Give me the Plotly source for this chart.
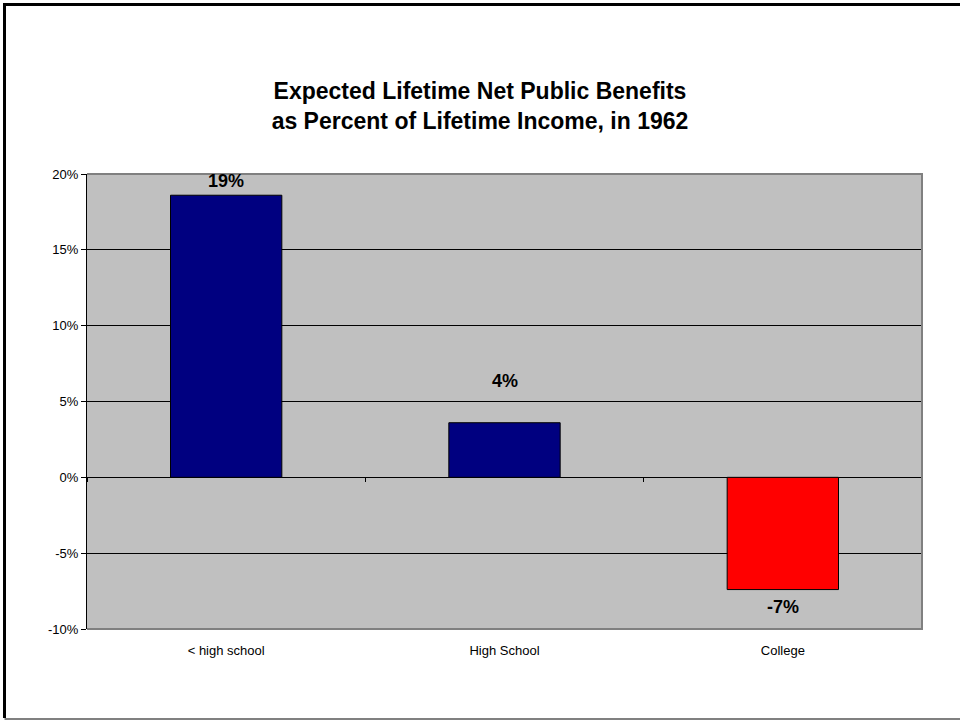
import plotly.graph_objects as go

# Data
categories = ["< high school", "High School", "College"]
net_benefit_share = [0.186, 0.036, -0.074]
bar_colors = ["#000080", "#000080", "#FF0000"]
label_shift_px = [14, 42, -17]

y_range = [-0.10, 0.20]
y_tick_vals = [-0.10, -0.05, 0.0, 0.05, 0.10, 0.15, 0.20]
y_tick_text = [f"{round(v * 100)}%" for v in y_tick_vals]

W, H = 960, 721
M_L, M_R, M_T, M_B = 87, 38, 174, 92
FONT = "Liberation Sans, Arial, sans-serif"

fig = go.Figure()
fig.add_trace(go.Bar(
    x=categories,
    y=net_benefit_share,
    marker=dict(color=bar_colors, line=dict(color="black", width=1)),
    width=0.4,
    hoverinfo="skip",
))

# Value labels above / below the bars
for cat, val, shift in zip(categories, net_benefit_share, label_shift_px):
    fig.add_annotation(
        x=cat, y=val, xref="x", yref="y",
        text=f"<b>{round(val * 100):.0f}%</b>",
        showarrow=False, yshift=shift,
        font=dict(family=FONT, size=18, color="black"),
        xanchor="center", yanchor="middle",
    )

zero_pos = (0 - y_range[0]) / (y_range[1] - y_range[0])

fig.update_layout(
    width=W, height=H, autosize=False,
    margin=dict(l=M_L, r=M_R, t=M_T, b=M_B, pad=0),
    paper_bgcolor="white",
    plot_bgcolor="#C0C0C0",
    showlegend=False,
    title=dict(
        text="Expected Lifetime Net Public Benefits<br>as Percent of Lifetime Income, in 1962",
        font=dict(family=FONT, size=23, color="black", weight="bold"),
        x=0.5, xref="container", xanchor="center",
        y=1 - 99 / H, yref="container", yanchor="middle",
    ),
    xaxis=dict(
        type="category",
        categoryarray=categories,
        range=[-0.5, 2.5],
        showgrid=False, zeroline=False, showline=False,
        ticks="", ticklabelstandoff=12,
        tickfont=dict(family=FONT, size=13, color="black"),
    ),
    # Category boundary tick marks drawn on the zero line
    xaxis2=dict(
        type="category",
        categoryarray=categories,
        range=[-0.5, 2.5],
        overlaying="x", anchor="free", position=zero_pos,
        tickson="boundaries", ticks="outside", ticklen=4, tickcolor="black",
        showticklabels=False, showgrid=False, showline=False, zeroline=False,
    ),
    yaxis=dict(
        range=y_range,
        tickvals=y_tick_vals,
        ticktext=y_tick_text,
        showgrid=True, gridcolor="black", gridwidth=1,
        zeroline=True, zerolinecolor="black", zerolinewidth=1,
        showline=True, linecolor="black", linewidth=1,
        ticks="outside", ticklen=5, tickcolor="black",
        tickfont=dict(family=FONT, size=13, color="black"),
    ),
)

# Invisible carrier so the overlay axis knows its categories
fig.add_trace(go.Scatter(
    x=categories, y=[0, 0, 0], xaxis="x2", yaxis="y",
    mode="markers", marker=dict(opacity=0), hoverinfo="skip",
))

# Gray border on top, right and bottom of the plotting area
fig.add_shape(
    type="path", xref="x domain", yref="y domain",
    path="M 0,1 L 1,1 L 1,0 L 0,0",
    line=dict(color="#808080", width=2), layer="above",
)

# Page frame: black on left and top, thin gray at the bottom
pw = W - M_L - M_R
ph = H - M_T - M_B
def px_x(p):
    return (p - M_L) / pw
def px_y(p):
    return 1 - (p - M_T) / ph

fig.add_shape(
    type="path", xref="paper", yref="paper",
    path=f"M {px_x(4.5)},{px_y(718)} L {px_x(4.5)},{px_y(4.5)} L {px_x(965)},{px_y(4.5)}",
    line=dict(color="black", width=3), layer="above",
)
fig.add_shape(
    type="line", xref="paper", yref="paper",
    x0=px_x(4.5), x1=px_x(965), y0=px_y(719), y1=px_y(719),
    line=dict(color="#808080", width=2), layer="above",
)

fig.write_html("out.html")
